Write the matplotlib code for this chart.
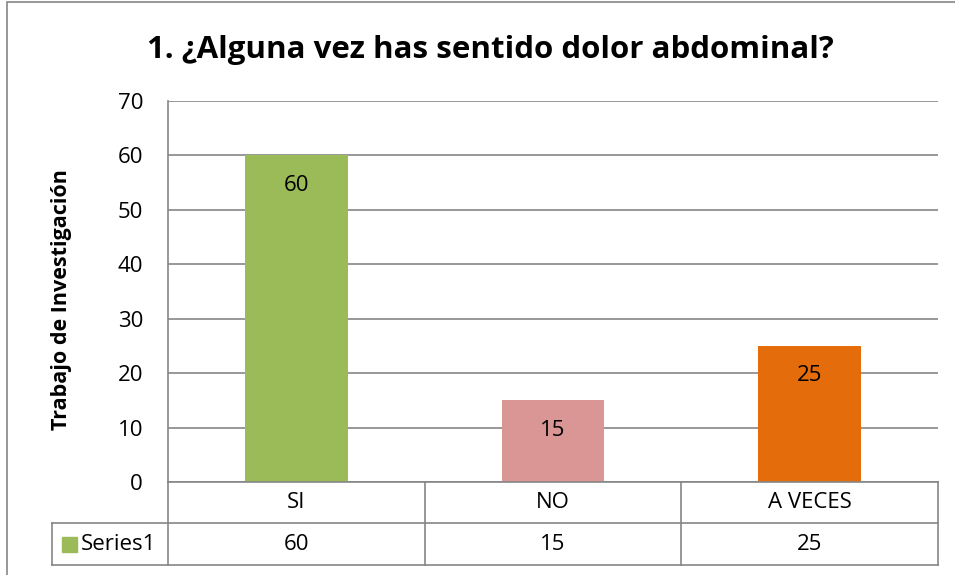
import matplotlib.pyplot as plt
from matplotlib.patches import Rectangle
from matplotlib.lines import Line2D

categories = ['SI', 'NO', 'A VECES']
values = [60, 15, 25]
colors = ['#9BBB59', '#D99694', '#E46C0A']
series_name = 'Series1'
title = '1. ¿Alguna vez has sentido dolor abdominal?'
ylabel = 'Trabajo de Investigación'

plt.rcParams['font.family'] = ['Open Sans', 'DejaVu Sans']

W, H = 955, 575
fig = plt.figure(figsize=(W / 100, H / 100), dpi=100)

def fx(px):
    return px / W

def fy(py):
    return 1 - py / H

FS = 16

# plot area in pixel coords
L, R, T, B = 168, 938, 101, 482
ax = fig.add_axes([fx(L), fy(B), fx(R) - fx(L), fy(T) - fy(B)])

x = list(range(len(categories)))
bars = ax.bar(x, values, width=0.4, color=colors, zorder=3)
for xi, v in zip(x, values):
    ax.text(xi, v - 5.5, str(v), ha='center', va='center', fontsize=FS, zorder=4)

ax.set_xlim(-0.5, len(categories) - 0.5)
ax.set_ylim(0, 70)
ax.set_yticks(range(0, 71, 10))
ax.yaxis.grid(True, color='#868686', linewidth=1.2, zorder=0)
ax.set_xticks([])
ax.tick_params(axis='y', length=0, labelsize=FS, pad=18)
for s in ['top', 'right', 'bottom']:
    ax.spines[s].set_visible(False)
ax.spines['left'].set_color('#868686')
ax.spines['left'].set_linewidth(1.2)

fig.text(fx(62), fy(300), ylabel, rotation=90, ha='center', va='center',
         fontsize=15.5, fontweight='bold')
fig.text(fx(490), fy(50), title, ha='center', va='center',
         fontsize=22.5, fontweight='bold')

# data table below the axis
gc = '#868686'
r1, r2, r3 = 482, 523, 565
tl = 52
col_edges = [L + (R - L) * i / len(categories) for i in range(len(categories) + 1)]

def hline(y, x0, x1):
    fig.add_artist(Line2D([fx(x0), fx(x1)], [fy(y), fy(y)], color=gc, lw=1.2))

def vline(xp, y0, y1):
    fig.add_artist(Line2D([fx(xp), fx(xp)], [fy(y0), fy(y1)], color=gc, lw=1.2))

hline(r1, L, R)
hline(r2, tl, R)
hline(r3, tl, R)
vline(tl, r2, r3)
vline(L, r1, r3)
for xe in col_edges[1:]:
    vline(xe, r1, r3)

for i, (c, v) in enumerate(zip(categories, values)):
    cx = (col_edges[i] + col_edges[i + 1]) / 2
    fig.text(fx(cx), fy((r1 + r2) / 2), c, ha='center', va='center', fontsize=FS)
    fig.text(fx(cx), fy((r2 + r3) / 2), str(v), ha='center', va='center', fontsize=FS)

fig.add_artist(Rectangle((fx(62), fy(552)), fx(15), fy(537) - fy(552),
                         color=colors[0], transform=fig.transFigure))
fig.text(fx(81), fy((r2 + r3) / 2), series_name, ha='left', va='center', fontsize=FS)

# outer chart border
fig.add_artist(Rectangle((fx(7), fy(580)), fx(1000), fy(2) - fy(580), fill=False,
                         edgecolor='#868686', lw=1.2, transform=fig.transFigure))

fig.savefig('out.png', dpi=100)
